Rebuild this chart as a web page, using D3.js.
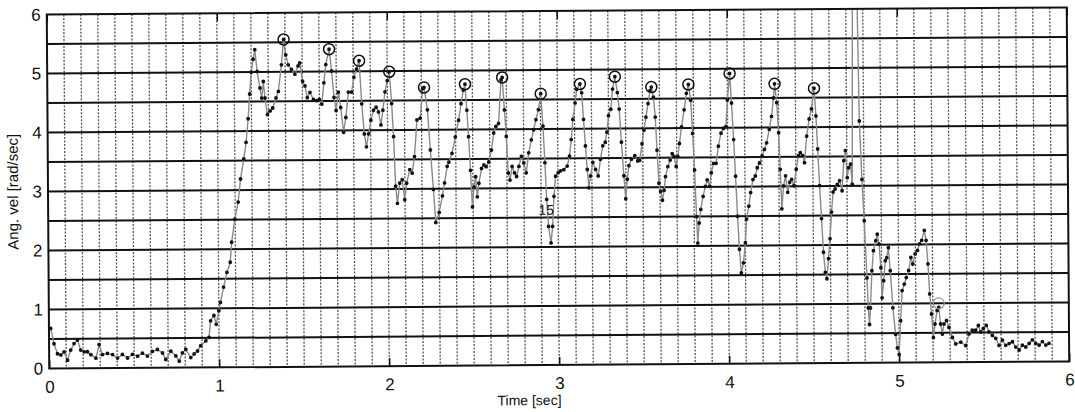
<!DOCTYPE html>
<html>
<head>
<meta charset="utf-8">
<script src="https://cdn.jsdelivr.net/npm/d3@7"></script>
<style>
  body { margin: 0; background: #fff; }
  svg { display: block; }
  text { font-family: "Liberation Sans", Arial, sans-serif; fill: #111; }
</style>
</head>
<body>
<div id="chart"></div>
<script>
var times = [0.010,0.029,0.049,0.069,0.088,0.108,0.127,0.147,0.167,0.186,0.206,0.225,0.245,0.275,0.294,0.314,0.343,0.373,0.402,0.431,0.461,0.490,0.520,0.549,0.578,0.608,0.637,0.667,0.686,0.716,0.745,0.765,0.784,0.804,0.833,0.853,0.873,0.892,0.922,0.941,0.951,0.971,0.984,1.000,1.010,1.029,1.049,1.069,1.078,1.098,1.118,1.133,1.153,1.167,1.180,1.190,1.200,1.212,1.222,
  1.235,1.251,1.261,1.271,1.280,1.294,1.310,1.325,1.345,1.359,1.378,1.392,1.404,1.418,1.437,1.457,1.476,1.486,1.502,1.516,1.529,1.545,1.565,1.584,1.600,1.614,1.627,1.639,1.659,1.673,1.686,1.698,1.712,1.725,1.741,1.755,1.771,1.790,1.804,1.820,1.835,1.849,1.863,1.875,1.888,1.902,1.918,1.933,1.947,1.961,1.973,1.986,2.000,2.012,2.025,2.035,2.045,2.055,2.069,2.084,2.098,2.110,2.129,2.143,2.157,2.173,2.192,2.208,2.216,2.235,2.251,2.267,2.280,2.300,2.320,2.333,2.349,
  2.359,2.378,2.398,2.418,2.433,2.447,2.457,2.467,2.476,2.486,2.496,2.506,2.516,2.525,2.535,2.551,2.565,2.578,2.594,2.610,2.624,2.637,2.653,2.669,2.676,2.688,2.698,2.708,2.718,2.731,2.745,2.757,2.771,2.786,2.800,2.814,2.829,2.845,2.859,2.873,2.888,2.902,2.914,2.924,2.933,2.943,2.957,2.967,2.976,2.986,3.002,3.016,3.035,3.055,3.069,3.080,3.090,3.104,3.114,3.133,3.143,3.153,3.163,3.173,3.182,3.192,3.206,3.222,3.237,3.251,3.265,3.280,3.290,3.300,3.314,3.325,3.339,3.353,3.363,3.375,3.388,3.398,3.408,3.418,3.433,3.453,3.470,
  3.482,3.496,3.508,3.520,3.533,3.545,3.553,3.565,3.575,3.584,3.594,3.604,3.614,3.624,3.633,3.647,3.661,3.673,3.684,3.696,3.706,3.716,3.729,3.745,3.759,3.771,3.784,3.794,3.804,3.814,3.820,3.829,3.839,3.853,3.867,3.878,3.892,3.902,3.916,3.931,3.945,3.961,3.975,3.990,4.000,4.014,4.024,4.035,4.045,4.055,4.065,4.075,4.088,4.100,4.108,4.122,4.133,4.147,4.161,4.173,4.186,4.202,4.216,4.229,4.245,4.259,4.271,4.278,4.290,4.300,4.308,4.316,4.327,4.339,4.351,4.363,4.375,4.388,4.402,4.416,4.427,4.441,4.451,4.465,4.480,4.494,4.510,4.520,4.529,4.539,4.549,4.559,4.569,4.578,4.588,4.598,4.608,4.618,
  4.630,4.643,4.657,4.671,4.682,4.692,4.702,4.710,4.722,4.731,4.740,4.765,4.775,4.788,4.800,4.814,4.820,4.827,4.833,4.843,4.853,4.867,4.876,4.886,4.896,4.902,4.912,4.922,4.931,4.941,4.951,4.965,4.980,4.990,5.000,5.010,5.020,5.033,5.045,5.059,5.073,5.084,5.098,5.112,5.124,5.137,5.153,5.163,5.173,5.182,5.192,5.202,5.212,5.225,5.235,5.245,5.255,5.265,5.280,5.294,5.314,5.333,5.363,5.392,5.412,5.431,5.451,5.467,5.480,5.496,5.514,5.529,5.549,5.569,5.588,5.608,5.627,5.647,5.667,5.686,5.706,5.725,5.745,5.765,5.784,5.804,5.824,5.843,5.863,5.882];
var angVel = [0.68,0.42,0.25,0.23,0.28,0.14,0.31,0.42,0.48,0.31,0.28,0.28,0.23,0.17,0.40,0.23,0.25,0.23,0.17,0.23,0.17,0.23,0.20,0.25,0.20,0.28,0.31,0.25,0.14,0.28,0.20,0.11,0.25,0.31,0.17,0.23,0.28,0.37,0.45,0.51,0.79,0.88,0.73,0.96,1.10,1.36,1.61,1.78,2.12,2.51,2.80,3.19,3.53,3.81,4.21,4.63,5.00,5.22,5.38,
  5.01,4.73,4.56,4.84,4.56,4.28,4.34,4.39,4.56,4.67,5.12,5.55,5.29,5.12,5.04,4.96,5.10,5.15,4.84,4.76,4.56,4.65,4.53,4.51,4.53,4.45,4.81,5.12,5.38,5.01,4.56,4.34,4.65,4.39,3.97,4.22,4.65,4.65,4.90,5.04,5.18,4.45,3.94,3.72,3.94,4.17,4.34,4.39,4.31,4.09,4.34,4.65,4.84,4.99,4.45,3.89,3.05,2.76,3.10,3.16,2.82,3.10,3.33,3.27,3.55,4.17,4.20,4.70,4.72,4.34,3.66,2.99,2.43,2.60,2.88,3.10,3.38,
  3.45,3.60,3.88,4.16,4.44,4.67,4.77,4.33,3.88,3.31,2.69,3.03,3.20,2.86,3.09,3.34,3.40,3.37,3.45,3.65,3.94,4.05,4.10,4.84,4.88,4.33,3.88,3.26,3.14,3.37,3.26,3.20,3.37,3.54,3.43,3.26,3.60,3.82,3.99,4.16,4.33,4.60,4.05,3.43,2.81,2.35,2.07,2.35,2.86,3.20,3.26,3.29,3.31,3.37,3.54,3.82,4.16,4.44,4.67,4.76,4.61,4.16,3.71,3.31,3.00,3.20,3.43,3.31,3.20,3.48,3.71,3.77,3.94,4.22,4.33,4.67,4.88,4.61,4.33,3.77,3.20,2.81,3.14,3.37,3.48,3.54,3.45,
  3.46,3.74,3.97,4.19,4.42,4.64,4.70,4.53,4.19,3.63,3.07,2.93,2.78,2.95,3.18,3.35,3.46,3.57,3.52,3.35,3.52,3.74,4.02,4.31,4.59,4.74,4.47,3.91,3.29,2.50,2.05,2.39,2.62,2.84,3.01,3.12,3.01,3.24,3.40,3.40,3.69,3.91,3.99,4.02,4.47,4.92,4.42,3.80,3.18,2.50,1.94,1.54,1.71,2.05,2.45,2.67,2.90,3.12,3.18,3.32,3.40,3.52,3.63,3.74,3.97,4.19,4.50,4.74,4.42,3.91,3.29,2.62,3.01,3.18,2.90,3.07,3.12,3.01,3.29,3.52,3.57,3.52,3.40,3.85,4.14,4.31,4.66,4.19,3.63,3.01,2.45,1.88,1.54,1.43,1.77,2.11,2.56,2.90,
  2.95,3.03,3.09,2.92,3.43,3.60,3.14,3.31,3.37,3.03,6.50,6.50,4.10,3.11,2.41,1.44,0.93,0.65,0.93,1.56,1.90,2.07,2.18,2.01,1.61,1.10,1.39,1.73,1.78,1.95,1.56,0.93,0.48,0.25,0.14,0.71,1.22,1.33,1.44,1.56,1.78,1.67,1.84,1.90,2.01,2.07,2.24,2.07,1.67,1.16,0.82,0.42,0.65,0.88,0.93,0.65,0.48,0.65,0.71,0.59,0.42,0.31,0.34,0.28,0.48,0.54,0.54,0.62,0.51,0.57,0.62,0.51,0.45,0.40,0.28,0.37,0.28,0.31,0.34,0.25,0.20,0.28,0.25,0.31,0.37,0.31,0.28,0.34,0.28,0.31];

// circled peaks
var peakTimes = [1.392,1.659,1.835,2.012,2.216,2.457,2.676,2.902,3.133,3.339,3.553,3.771,4.014,4.278,4.510];
var peakValues = [5.55,5.38,5.18,4.99,4.72,4.77,4.88,4.60,4.76,4.88,4.70,4.74,4.92,4.74,4.66];
var faintPeak = [5.235, 1.0];

var xTicks = [0, 1, 2, 3, 4, 5, 6];
var yTicks = [0, 1, 2, 3, 4, 5, 6];
var xLabel = "Time [sec]";
var yLabel = "Ang. vel [rad/sec]";
var noteText = "15";
var notePos = [2.93, 2.55];

var width = 1075, height = 412;
var margin = {left: 48, top: 11};
var w = 1020, h = 354;

var svg = d3.select("#chart")
    .append("svg")
    .attr("width", width)
    .attr("height", height);

// the scan is tilted a little
var g = svg.append("g")
    .attr("transform", "rotate(-0.4," + (margin.left + w / 2) + "," + (margin.top + h / 2) + ") translate(" + margin.left + "," + margin.top + ")");

var x = d3.scaleLinear().domain([0, 6]).range([0, w]);
var y = d3.scaleLinear().domain([0, 6]).range([h, 0]);

svg.append("defs").append("clipPath").attr("id", "plotclip")
    .append("rect").attr("width", w).attr("height", h);

// vertical dotted grid, every 0.1 s
g.append("g").selectAll("line")
    .data(d3.range(1, 60).map(function(i) { return i / 10; }))
    .enter().append("line")
    .attr("x1", function(d) { return x(d); })
    .attr("x2", function(d) { return x(d); })
    .attr("y1", 0)
    .attr("y2", h)
    .attr("stroke", "#555")
    .attr("stroke-width", 1.3)
    .attr("stroke-dasharray", "2,1.5");

// horizontal solid grid, every 0.5
g.append("g").selectAll("line")
    .data(d3.range(1, 12).map(function(i) { return i / 2; }))
    .enter().append("line")
    .attr("x1", 0)
    .attr("x2", w)
    .attr("y1", function(d) { return y(d); })
    .attr("y2", function(d) { return y(d); })
    .attr("stroke", "#111")
    .attr("stroke-width", 2);

// axes
var xAxis = g.append("g")
    .attr("transform", "translate(0," + h + ")")
    .call(d3.axisBottom(x).tickValues(xTicks).tickSize(-8).tickPadding(12).tickFormat(d3.format("d")));
var xAxisTop = g.append("g")
    .call(d3.axisTop(x).tickValues(xTicks).tickSize(-8).tickFormat(""));
var yAxis = g.append("g")
    .call(d3.axisLeft(y).tickValues(yTicks).tickSize(0).tickPadding(6).tickFormat(d3.format("d")));
[xAxis, xAxisTop, yAxis].forEach(function(a) {
    a.select(".domain").remove();
    a.selectAll("line").attr("stroke", "#111").attr("stroke-width", 1.5);
    a.selectAll("text").attr("font-size", 17).attr("fill", "#111")
        .attr("font-family", "'Liberation Sans', Arial, sans-serif");
});

// data line + dots
var plot = g.append("g").attr("clip-path", "url(#plotclip)");
var pts = times.map(function(t, i) { return [t, angVel[i]]; });
var line = d3.line()
    .x(function(d) { return x(d[0]); })
    .y(function(d) { return y(d[1]); });
plot.append("path")
    .datum(pts)
    .attr("d", line)
    .attr("fill", "none")
    .attr("stroke", "#8a8a8a")
    .attr("stroke-width", 1.4);
plot.append("g").selectAll("circle")
    .data(pts)
    .enter().append("circle")
    .attr("cx", function(d) { return x(d[0]); })
    .attr("cy", function(d) { return y(d[1]); })
    .attr("r", 1.9)
    .attr("fill", "#111");

// peak markers
plot.append("g").selectAll("circle")
    .data(peakTimes)
    .enter().append("circle")
    .attr("cx", function(d) { return x(d); })
    .attr("cy", function(d, i) { return y(peakValues[i]); })
    .attr("r", 5.5)
    .attr("fill", "none")
    .attr("stroke", "#111")
    .attr("stroke-width", 1.5);
plot.append("circle")
    .attr("cx", x(faintPeak[0]))
    .attr("cy", y(faintPeak[1]))
    .attr("r", 5.5)
    .attr("fill", "none")
    .attr("stroke", "#999")
    .attr("stroke-width", 1.2);

g.append("text")
    .attr("x", x(notePos[0]))
    .attr("y", y(notePos[1]))
    .attr("text-anchor", "middle")
    .attr("font-size", 14)
    .text(noteText);

// frame
g.append("rect")
    .attr("width", w)
    .attr("height", h)
    .attr("fill", "none")
    .attr("stroke", "#111")
    .attr("stroke-width", 2);

// axis titles
g.append("text")
    .attr("x", 480)
    .attr("y", h + 40)
    .attr("text-anchor", "middle")
    .attr("font-size", 14)
    .text(xLabel);
g.append("text")
    .attr("transform", "translate(-30," + (h / 2) + ") rotate(-90)")
    .attr("text-anchor", "middle")
    .attr("font-size", 15)
    .text(yLabel);
</script>
</body>
</html>
